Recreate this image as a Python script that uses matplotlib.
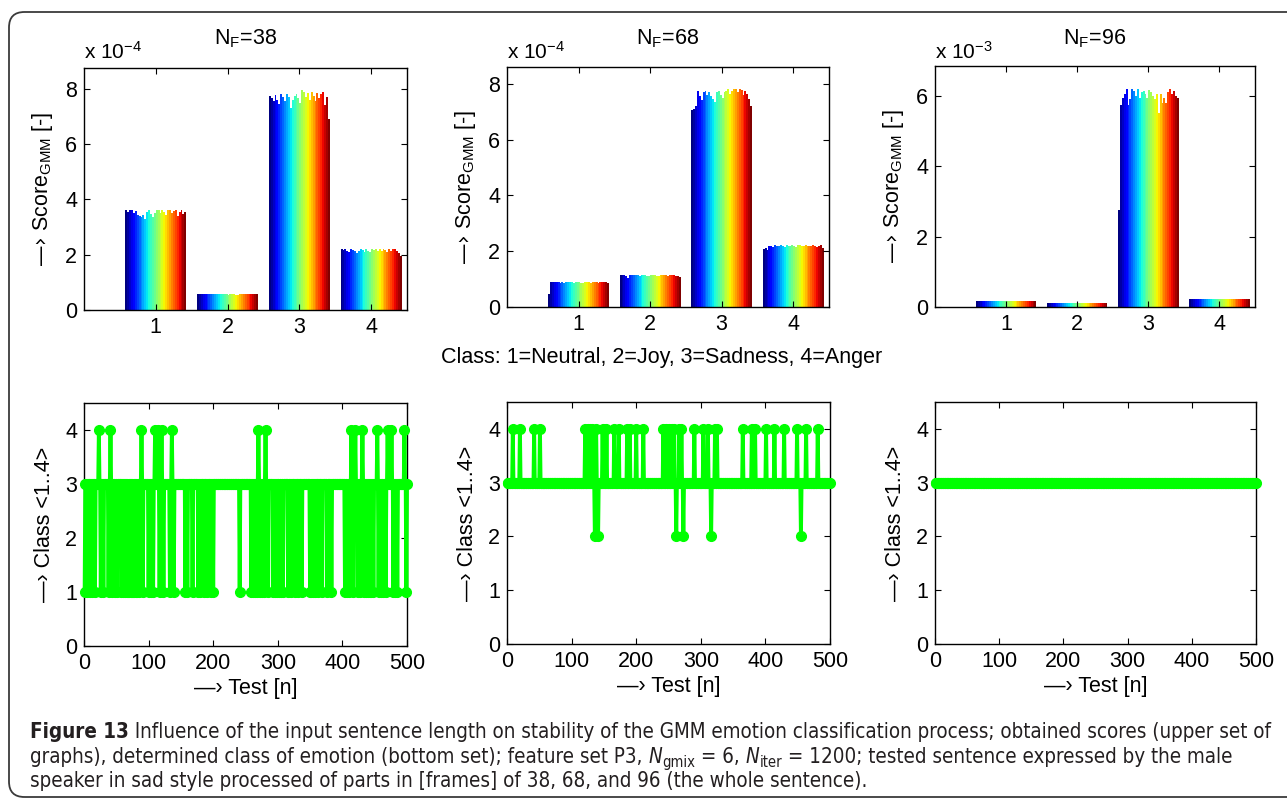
import os
import numpy as np
import matplotlib
matplotlib.use("Agg")
import matplotlib.pyplot as plt
from matplotlib import font_manager
from matplotlib.font_manager import FontProperties
from matplotlib.patches import FancyBboxPatch

# ---------------- data ----------------
classes = [1, 2, 3, 4]
class_names = "Class: 1=Neutral, 2=Joy, 3=Sadness, 4=Anger"
frame_lengths = [38, 68, 96]
score_exponents = [-4, -4, -3]

# GMM scores per class (units of 10^exponent), one value per test series
nf38_neutral = [3.62, 3.55, 3.60, 3.62, 3.50, 3.58, 3.45, 3.40, 3.35, 3.42, 3.30, 3.55, 3.62, 3.48, 3.38, 3.52,
                3.62, 3.60, 3.50, 3.62, 3.55, 3.45, 3.60, 3.62, 3.50, 3.58, 3.62, 3.40, 3.55, 3.62, 3.48, 3.55]
nf38_joy = [0.58, 0.58, 0.57, 0.58, 0.58, 0.57, 0.58, 0.58, 0.57, 0.58, 0.58, 0.58, 0.57, 0.58, 0.58, 0.57,
            0.56, 0.58, 0.58, 0.57, 0.55, 0.56, 0.58, 0.57, 0.58, 0.58, 0.57, 0.58, 0.58, 0.57, 0.58, 0.58]
nf38_sadness = [7.72, 7.65, 7.55, 7.78, 7.60, 7.45, 7.80, 7.70, 7.55, 7.80, 7.70, 7.30, 7.60, 7.75, 7.80, 7.65,
                7.50, 7.95, 7.90, 7.70, 7.85, 7.60, 7.88, 7.75, 7.55, 7.85, 7.65, 7.80, 7.88, 7.40, 7.70, 6.90]
nf38_anger = [2.20, 2.18, 2.20, 2.15, 2.10, 2.20, 2.18, 2.12, 2.05, 2.15, 2.20, 2.18, 2.10, 2.20, 2.15, 2.08,
              2.20, 2.18, 2.20, 2.12, 2.20, 2.15, 2.20, 2.18, 2.10, 2.20, 2.15, 2.20, 2.22, 2.12, 2.05, 1.95]

nf68_neutral = [0.45, 0.90, 0.90, 0.89, 0.88, 0.88, 0.87, 0.88, 0.87, 0.88, 0.88, 0.89, 0.88, 0.87, 0.88, 0.89,
                0.88, 0.87, 0.86, 0.88, 0.89, 0.88, 0.87, 0.88, 0.89, 0.88, 0.87, 0.88, 0.89, 0.90, 0.88, 0.85]
nf68_joy = [1.14, 1.14, 1.13, 1.10, 1.05, 1.13, 1.14, 1.14, 1.13, 1.14, 1.12, 1.14, 1.14, 1.13, 1.10, 1.12,
            1.14, 1.13, 1.14, 1.12, 1.10, 1.13, 1.14, 1.14, 1.13, 1.12, 1.14, 1.13, 1.14, 1.12, 1.10, 1.08]
nf68_sadness = [7.05, 7.10, 7.20, 7.75, 7.55, 7.40, 7.70, 7.75, 7.60, 7.70, 7.55, 7.45, 7.35, 7.70, 7.75, 7.60,
                7.50, 7.70, 7.75, 7.80, 7.65, 7.75, 7.80, 7.82, 7.70, 7.82, 7.78, 7.60, 7.75, 7.65, 7.45, 7.20]
nf68_anger = [2.08, 2.12, 2.05, 2.18, 2.20, 2.15, 2.22, 2.20, 2.18, 2.22, 2.20, 2.15, 2.22, 2.20, 2.18, 2.22,
              2.20, 2.15, 2.22, 2.22, 2.20, 2.18, 2.22, 2.20, 2.18, 2.20, 2.22, 2.18, 2.15, 2.20, 2.22, 2.10]

nf96_neutral = [0.18, 0.18, 0.18, 0.18, 0.18, 0.18, 0.18, 0.18, 0.18, 0.18, 0.18, 0.18, 0.18, 0.18, 0.18, 0.18,
                0.18, 0.18, 0.18, 0.18, 0.18, 0.18, 0.18, 0.18, 0.18, 0.18, 0.18, 0.18, 0.18, 0.18, 0.18, 0.18]
nf96_joy = [0.10, 0.10, 0.10, 0.10, 0.10, 0.10, 0.10, 0.10, 0.10, 0.10, 0.10, 0.10, 0.10, 0.10, 0.10, 0.10,
            0.10, 0.10, 0.10, 0.10, 0.10, 0.10, 0.10, 0.10, 0.10, 0.10, 0.10, 0.10, 0.10, 0.10, 0.10, 0.10]
nf96_sadness = [2.75, 5.75, 5.95, 6.05, 6.20, 5.75, 5.90, 6.20, 6.15, 6.00, 6.20, 5.95, 6.10, 6.15, 6.05, 5.95,
                6.18, 6.10, 6.00, 5.90, 6.05, 5.50, 6.05, 5.80, 5.95, 5.80, 6.10, 6.20, 6.05, 6.15, 6.00, 5.95]
nf96_anger = [0.22, 0.22, 0.22, 0.22, 0.22, 0.22, 0.22, 0.22, 0.22, 0.22, 0.22, 0.22, 0.22, 0.22, 0.22, 0.22,
              0.22, 0.22, 0.22, 0.22, 0.22, 0.22, 0.22, 0.22, 0.22, 0.22, 0.22, 0.22, 0.22, 0.22, 0.22, 0.22]

score_ylims = [8.75, 8.6, 6.85]
score_yticks = [[0, 2, 4, 6, 8], [0, 2, 4, 6, 8], [0, 2, 4, 6]]

# classification results: 500 tests, default class 3 (Sadness); tests that got another class
n_tests = 500
default_class = 3
nf38_tests_class1 = [1, 5, 9, 13, 17, 26, 30, 38, 44, 48, 51, 58, 61, 64, 66, 68, 70, 72, 74, 76, 78, 80, 82, 85,
                     91, 100, 103, 107, 117, 123, 133, 139, 157, 160, 168, 177, 180, 186, 190, 197, 200, 241,
                     259, 262, 265, 268, 272, 276, 279, 285, 293, 296, 299, 302, 305, 308, 316, 321, 327, 332,
                     337, 350, 352, 355, 358, 363, 368, 376, 383, 404, 407, 410, 417, 424, 427, 433, 436, 439,
                     442, 445, 448, 456, 459, 463, 467, 479, 482, 485, 499]
nf38_tests_class4 = [23, 41, 89, 110, 114, 120, 136, 270, 281, 414, 420, 431, 454, 470, 476, 496]
nf68_tests_class2 = [136, 141, 262, 273, 316, 455]
nf68_tests_class4 = [9, 20, 42, 51, 121, 126, 129, 132, 138, 148, 154, 166, 173, 186, 190, 200, 211, 242, 246,
                     250, 255, 258, 266, 270, 290, 304, 311, 322, 325, 365, 379, 384, 401, 414, 429, 449, 463, 481]

caption_lines = [
    [("Figure 13", "b"), (" Influence of the input sentence length on stability of the GMM emotion classification "
                          "process; obtained scores (upper set of", "r")],
    [("graphs), determined class of emotion (bottom set); feature set P3, ", "r"), ("N", "i"), ("gmix", "s"),
     (" = 6, ", "r"), ("N", "i"), ("iter", "s"),
     (" = 1200; tested sentence expressed by the male", "r")],
    [("speaker in sad style processed of parts in [frames] of 38, 68, and 96 (the whole sentence).", "r")],
]

# ---------------- fonts ----------------
available = {f.name for f in font_manager.fontManager.ttflist}
main_font = "Liberation Sans" if "Liberation Sans" in available else "DejaVu Sans"
plt.rcParams["font.family"] = [main_font, "DejaVu Sans"]
plt.rcParams["mathtext.default"] = "regular"

files = {os.path.basename(f.fname): f.fname for f in font_manager.fontManager.ttflist}

def pick(cands, fallback):
    for c in cands:
        if c in files:
            return FontProperties(fname=files[c])
    return fallback

cap_r = pick(["LiberationSansNarrow-Regular.ttf", "DejaVuSansCondensed.ttf"],
             FontProperties(family=main_font))
cap_b = pick(["LiberationSansNarrow-Bold.ttf", "DejaVuSansCondensed-Bold.ttf"],
             FontProperties(family=main_font, weight="bold"))
cap_i = pick(["LiberationSansNarrow-Italic.ttf", "DejaVuSansCondensed-Oblique.ttf"],
             FontProperties(family=main_font, style="italic"))

W, H = 1287, 800
fig = plt.figure(figsize=(W / 100, H / 100), dpi=100)

def fx(px):
    return px / W

def fy(py):
    return 1 - py / H

ARROW = "\u2014\u203a "
FS = 15.5

top_boxes = [(84, 68, 407, 310), (507, 67, 829, 307), (935, 66, 1255, 307)]
bot_boxes = [(84, 403, 407, 646), (507, 402, 830, 644), (935, 402, 1256, 644)]

def make_ax(box):
    l, t, r, b = box
    ax = fig.add_axes([fx(l), fy(b), fx(r - l), (b - t) / H])
    ax.tick_params(direction="in", top=True, right=True, labelsize=FS, length=4, width=0.8, pad=5)
    for s in ax.spines.values():
        s.set_linewidth(1.0)
    return ax

scores = [
    [nf38_neutral, nf38_joy, nf38_sadness, nf38_anger],
    [nf68_neutral, nf68_joy, nf68_sadness, nf68_anger],
    [nf96_neutral, nf96_joy, nf96_sadness, nf96_anger],
]
cmap = plt.get_cmap("jet")
group_width = 0.85

for i, box in enumerate(top_boxes):
    ax = make_ax(box)
    data = np.array(scores[i])  # 4 x K
    K = data.shape[1]
    w = group_width / K
    for k in range(K):
        xs = np.array(classes) - group_width / 2 + (k + 0.5) * w
        ax.bar(xs, data[:, k], width=w * 1.02, color=cmap(k / (K - 1)), linewidth=0)
    ax.set_xlim(0, 4.5)
    ax.set_ylim(0, score_ylims[i])
    ax.set_xticks(classes)
    ax.set_yticks(score_yticks[i])
    ax.set_ylabel(ARROW + "Score$_{GMM}$ [-]", fontsize=FS, labelpad=7)
    l, t, r, b = box
    fig.text(fx((l + r) / 2), fy(39), "N$_{F}$=%d" % frame_lengths[i], fontsize=FS, ha="center", va="center")
    fig.text(fx(l), fy(52), "x 10$^{%d}$" % score_exponents[i], fontsize=FS - 0.5, ha="left", va="center")

fig.text(fx(662), fy(357), class_names, fontsize=FS, ha="center", va="center")

tests = np.arange(1, n_tests + 1)
r38 = np.full(n_tests, default_class)
r38[np.array(nf38_tests_class1) - 1] = 1
r38[np.array(nf38_tests_class4) - 1] = 4
r68 = np.full(n_tests, default_class)
r68[np.array(nf68_tests_class2) - 1] = 2
r68[np.array(nf68_tests_class4) - 1] = 4
r96 = np.full(n_tests, default_class)
results = [r38, r68, r96]

for i, box in enumerate(bot_boxes):
    ax = make_ax(box)
    ax.plot(tests, results[i], color=(0, 1, 0), lw=2.8, marker="o", ms=7, mec=(0, 1, 0),
            mfc=(0, 1, 0), clip_on=False, zorder=3)
    ax.set_xlim(0, 500)
    ax.set_ylim(0, 4.5)
    ax.set_xticks([0, 100, 200, 300, 400, 500])
    ax.set_yticks([0, 1, 2, 3, 4])
    ax.set_xlabel(ARROW + "Test [n]", fontsize=FS, labelpad=3)
    ax.set_ylabel(ARROW + "Class <1..4>", fontsize=FS, labelpad=7)

# border
border = FancyBboxPatch((fx(9), fy(797)), fx(1400), (797 - 12) / H,
                        boxstyle="round,pad=0,rounding_size=0.012",
                        transform=fig.transFigure, fill=False, ec="#3a3a3a", lw=1.3,
                        mutation_aspect=W / H)
fig.patches.append(border)

# caption, drawn as segments
renderer = fig.canvas.get_renderer()
fp_map = {"r": cap_r, "b": cap_b, "i": cap_i, "s": cap_r}

def draw_line(segs, x0, y, size, draw=True):
    x = x0
    made = []
    for txt, kind in segs:
        fp = fp_map[kind].copy()
        sz = size * (0.72 if kind == "s" else 1.0)
        fp.set_size(sz)
        dy = -0.28 * size if kind == "s" else 0
        t = fig.text(fx(x), fy(y - dy), txt, fontproperties=fp, color="#231f20",
                     ha="left", va="baseline")
        wpx = t.get_window_extent(renderer).width
        made.append(t)
        x += wpx
    if not draw:
        for t in made:
            t.remove()
    return x - x0

base = 15.0
w0 = draw_line(caption_lines[0], 30, 738, base, draw=False)
size = base * 1250.0 / w0
for segs, y in zip(caption_lines, [738, 763, 787]):
    draw_line(segs, 30, y, size)

fig.savefig("out.png", dpi=100)
